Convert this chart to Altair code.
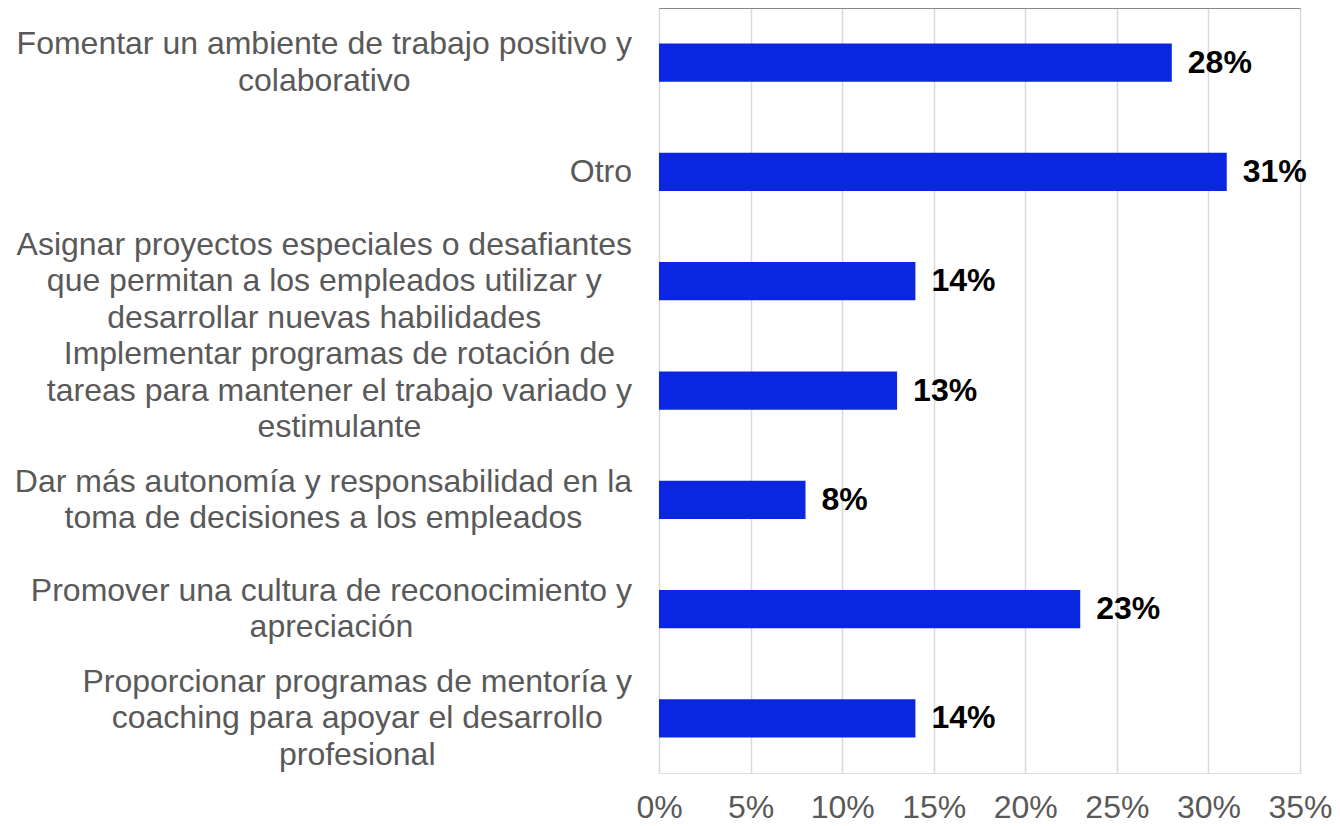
import altair as alt
import pandas as pd

categories = [
    "Fomentar un ambiente de trabajo positivo y\ncolaborativo",
    "Otro",
    "Asignar proyectos especiales o desafiantes\nque permitan a los empleados utilizar y\ndesarrollar nuevas habilidades",
    "Implementar programas de rotación de\ntareas para mantener el trabajo variado y\nestimulante",
    "Dar más autonomía y responsabilidad en la\ntoma de decisiones a los empleados",
    "Promover una cultura de reconocimiento y\napreciación",
    "Proporcionar programas de mentoría y\ncoaching para apoyar el desarrollo\nprofesional",
]
values = [0.28, 0.31, 0.14, 0.13, 0.08, 0.23, 0.14]
tick_values = [0, 0.05, 0.10, 0.15, 0.20, 0.25, 0.30, 0.35]

FS = 32
LINE_H = 36.5
PLOT_W = 641
PLOT_H = 765
PAD_INNER = 0.65
PAD_OUTER = 0.325

# Arial / Liberation Sans advance widths (per 1000 em) for block-width measurement
W = {" ": 278, "a": 556, "b": 556, "c": 500, "d": 556, "e": 556, "f": 278, "g": 556,
     "h": 556, "i": 222, "j": 222, "k": 500, "l": 222, "m": 833, "n": 556, "o": 556,
     "p": 556, "q": 556, "r": 333, "s": 500, "t": 278, "u": 556, "v": 500, "w": 722,
     "x": 500, "y": 500, "z": 500, "á": 556, "é": 556, "í": 278, "ó": 556, "ú": 556,
     "ñ": 556, "A": 667, "D": 722, "F": 611, "I": 278, "O": 778, "P": 667}


def block_width(label):
    return max(sum(W.get(ch, 556) for ch in line) for line in label.split("\n")) / 1000 * FS


n_cat = len(categories)
step = PLOT_H / (n_cat - PAD_INNER + 2 * PAD_OUTER)
half_band = step * (1 - PAD_INNER) / 2

GAP = 27
df = pd.DataFrame({
    "cat": categories,
    "val": values,
    "cx": [-GAP - block_width(c) / 2 for c in categories],
    "cy": [half_band - (len(c.split("\n")) - 1) * LINE_H / 2 for c in categories],
})

y_enc = alt.Y("cat:N", sort=None, axis=None,
              scale=alt.Scale(paddingInner=PAD_INNER, paddingOuter=PAD_OUTER))

base = alt.Chart(df)

bars = base.mark_bar(color="#0A26E0").encode(
    x=alt.X("val:Q",
            scale=alt.Scale(domain=[0, 0.35], nice=False),
            axis=alt.Axis(format="%", values=tick_values, grid=True, gridColor="#d9d9d9",
                          gridWidth=1.5, domain=False, ticks=False, labelFontSize=FS,
                          labelColor="#595959", labelPadding=19, title=None,
                          labelOverlap=False, labelFlush=False,
                          labelFont="Liberation Sans")),
    y=y_enc,
)

value_text = base.mark_text(align="left", baseline="middle", dx=16, fontSize=FS,
                            fontWeight="bold", color="black",
                            font="Liberation Sans").encode(
    x=alt.X("val:Q"),
    y=y_enc,
    text=alt.Text("val:Q", format=".0%"),
)

cat_text = base.mark_text(align="center", baseline="middle", lineBreak="\n",
                          lineHeight=LINE_H, fontSize=FS, color="#595959",
                          font="Liberation Sans").encode(
    x=alt.X("cx:Q", scale=None, axis=None),
    y=y_enc,
    yOffset=alt.YOffset("cy:Q", scale=None),
    text="cat:N",
)

chart = alt.layer(bars, value_text, cat_text).resolve_scale(x="independent").properties(
    width=PLOT_W,
    height=PLOT_H,
    autosize=alt.AutoSizeParams(type="none"),
    padding={"left": 651, "top": 0, "right": 32, "bottom": 52},
).configure_view(stroke=None).configure(font="Liberation Sans")

chart.save("out.html", embed_options={"renderer": "svg", "actions": False})
